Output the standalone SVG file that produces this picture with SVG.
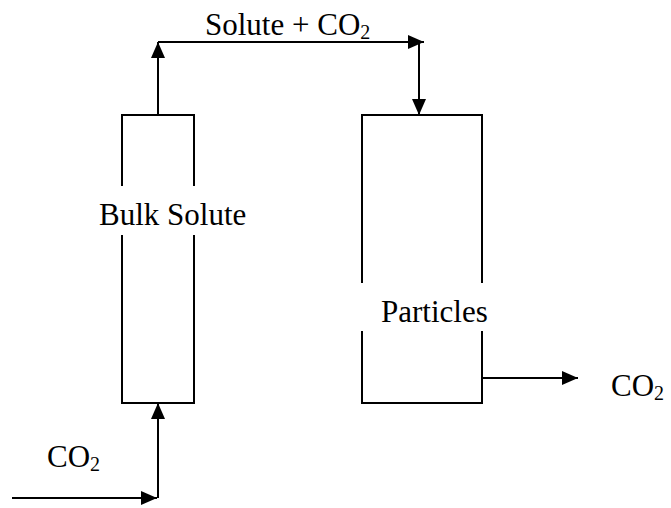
<svg xmlns="http://www.w3.org/2000/svg" width="671" height="508" viewBox="0 0 671 508">
<defs>
<marker id="ah" markerUnits="userSpaceOnUse" markerWidth="16" markerHeight="14" refX="16" refY="7" orient="auto">
<path d="M0,0 L16,7 L0,14 Z" fill="#000"/>
</marker>
<style>
.ln{fill:none;stroke:#000;stroke-width:2}
.t{font-family:"Liberation Serif","Times New Roman",serif;font-size:31px;fill:#000}
.sub{font-size:20px}
</style>
</defs>
<rect width="671" height="508" fill="#fff"/>
<g id="bulk">
<path class="ln" d="M122,186 V115 H194 V186 M122,235 V403 H194 V235"/>
<text class="t" x="99" y="225">Bulk Solute</text>
</g>
<g id="particles">
<path class="ln" d="M362,283 V115 H482 V283 M362,331 V403 H482 V331"/>
<text class="t" x="381" y="322">Particles</text>
</g>
<g id="labels">
<text class="t" x="205" y="35">Solute + CO<tspan class="sub" dy="4">2</tspan></text>
<text class="t" x="47" y="467">CO<tspan class="sub" dy="4">2</tspan></text>
<text class="t" x="611" y="396">CO<tspan class="sub" dy="4">2</tspan></text>
</g>
<g id="connectors">
<path class="ln" d="M12,498 H157" marker-end="url(#ah)"/>
<path class="ln" d="M158,498 V403" marker-end="url(#ah)"/>
<path class="ln" d="M158,115 V42" marker-end="url(#ah)"/>
<path class="ln" d="M158,42 H424" marker-end="url(#ah)"/>
<path class="ln" d="M419,42 V115" marker-end="url(#ah)"/>
<path class="ln" d="M482,378 H578" marker-end="url(#ah)"/>
</g>
</svg>
